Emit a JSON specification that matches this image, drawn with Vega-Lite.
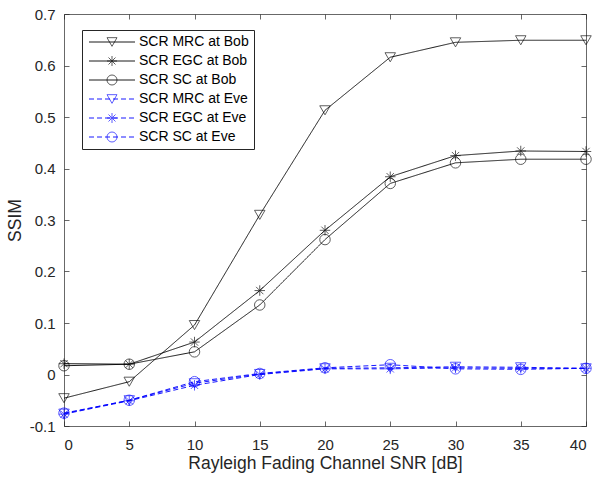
{
  "$schema": "https://vega.github.io/schema/vega-lite/v6.json",
  "width": 522,
  "height": 412,
  "autosize": {"type": "none"},
  "padding": {"left": 64, "top": 14, "right": 10, "bottom": 53},
  "background": "white",
  "config": {
    "view": {"stroke": null},
    "font": "Liberation Sans",
    "axis": {
      "grid": false,
      "domainColor": "#262626",
      "domainWidth": 0.7,
      "tickColor": "#262626",
      "tickWidth": 0.7,
      "tickSize": -5,
      "labelFont": "Liberation Sans",
      "labelFontSize": 15,
      "labelColor": "#262626",
      "titleFont": "Liberation Sans",
      "titleFontSize": 17.5,
      "titleFontWeight": "normal",
      "titleColor": "#262626"
    },
    "legend": {
      "labelFont": "Liberation Sans",
      "labelFontSize": 14,
      "labelColor": "#000000"
    }
  },
  "data": {
    "values": [
      {"snr": 0, "ssim": -0.046, "series": "SCR MRC at Bob"},
      {"snr": 5, "ssim": -0.014, "series": "SCR MRC at Bob"},
      {"snr": 10, "ssim": 0.096, "series": "SCR MRC at Bob"},
      {"snr": 15, "ssim": 0.31, "series": "SCR MRC at Bob"},
      {"snr": 20, "ssim": 0.513, "series": "SCR MRC at Bob"},
      {"snr": 25, "ssim": 0.616, "series": "SCR MRC at Bob"},
      {"snr": 30, "ssim": 0.645, "series": "SCR MRC at Bob"},
      {"snr": 35, "ssim": 0.649, "series": "SCR MRC at Bob"},
      {"snr": 40, "ssim": 0.649, "series": "SCR MRC at Bob"},
      {"snr": 0, "ssim": 0.021, "series": "SCR EGC at Bob"},
      {"snr": 5, "ssim": 0.02, "series": "SCR EGC at Bob"},
      {"snr": 10, "ssim": 0.063, "series": "SCR EGC at Bob"},
      {"snr": 15, "ssim": 0.163, "series": "SCR EGC at Bob"},
      {"snr": 20, "ssim": 0.28, "series": "SCR EGC at Bob"},
      {"snr": 25, "ssim": 0.384, "series": "SCR EGC at Bob"},
      {"snr": 30, "ssim": 0.425, "series": "SCR EGC at Bob"},
      {"snr": 35, "ssim": 0.434, "series": "SCR EGC at Bob"},
      {"snr": 40, "ssim": 0.433, "series": "SCR EGC at Bob"},
      {"snr": 0, "ssim": 0.017, "series": "SCR SC at Bob"},
      {"snr": 5, "ssim": 0.02, "series": "SCR SC at Bob"},
      {"snr": 10, "ssim": 0.044, "series": "SCR SC at Bob"},
      {"snr": 15, "ssim": 0.135, "series": "SCR SC at Bob"},
      {"snr": 20, "ssim": 0.262, "series": "SCR SC at Bob"},
      {"snr": 25, "ssim": 0.371, "series": "SCR SC at Bob"},
      {"snr": 30, "ssim": 0.411, "series": "SCR SC at Bob"},
      {"snr": 35, "ssim": 0.418, "series": "SCR SC at Bob"},
      {"snr": 40, "ssim": 0.418, "series": "SCR SC at Bob"},
      {"snr": 0, "ssim": -0.076, "series": "SCR MRC at Eve"},
      {"snr": 5, "ssim": -0.05, "series": "SCR MRC at Eve"},
      {"snr": 10, "ssim": -0.017, "series": "SCR MRC at Eve"},
      {"snr": 15, "ssim": 0.001, "series": "SCR MRC at Eve"},
      {"snr": 20, "ssim": 0.012, "series": "SCR MRC at Eve"},
      {"snr": 25, "ssim": 0.013, "series": "SCR MRC at Eve"},
      {"snr": 30, "ssim": 0.015, "series": "SCR MRC at Eve"},
      {"snr": 35, "ssim": 0.014, "series": "SCR MRC at Eve"},
      {"snr": 40, "ssim": 0.012, "series": "SCR MRC at Eve"},
      {"snr": 0, "ssim": -0.077, "series": "SCR EGC at Eve"},
      {"snr": 5, "ssim": -0.051, "series": "SCR EGC at Eve"},
      {"snr": 10, "ssim": -0.021, "series": "SCR EGC at Eve"},
      {"snr": 15, "ssim": 0.0, "series": "SCR EGC at Eve"},
      {"snr": 20, "ssim": 0.011, "series": "SCR EGC at Eve"},
      {"snr": 25, "ssim": 0.011, "series": "SCR EGC at Eve"},
      {"snr": 30, "ssim": 0.013, "series": "SCR EGC at Eve"},
      {"snr": 35, "ssim": 0.012, "series": "SCR EGC at Eve"},
      {"snr": 40, "ssim": 0.012, "series": "SCR EGC at Eve"},
      {"snr": 0, "ssim": -0.075, "series": "SCR SC at Eve"},
      {"snr": 5, "ssim": -0.05, "series": "SCR SC at Eve"},
      {"snr": 10, "ssim": -0.014, "series": "SCR SC at Eve"},
      {"snr": 15, "ssim": 0.002, "series": "SCR SC at Eve"},
      {"snr": 20, "ssim": 0.013, "series": "SCR SC at Eve"},
      {"snr": 25, "ssim": 0.019, "series": "SCR SC at Eve"},
      {"snr": 30, "ssim": 0.011, "series": "SCR SC at Eve"},
      {"snr": 35, "ssim": 0.01, "series": "SCR SC at Eve"},
      {"snr": 40, "ssim": 0.012, "series": "SCR SC at Eve"}
    ]
  },
  "layer": [
    {
      "mark": {"type": "line", "strokeWidth": 0.9},
      "encoding": {
        "x": {
          "field": "snr", "type": "quantitative",
          "scale": {"domain": [0, 40], "nice": false, "zero": false},
          "axis": {"orient": "bottom", "values": [0, 5, 10, 15, 20, 25, 30, 35, 40], "title": "Rayleigh Fading Channel SNR [dB]", "labelPadding": 16, "titlePadding": 2}
        },
        "y": {
          "field": "ssim", "type": "quantitative",
          "scale": {"domain": [-0.1, 0.7], "nice": false, "zero": false},
          "axis": {"orient": "left", "values": [-0.1, 0, 0.1, 0.2, 0.3, 0.4, 0.5, 0.6, 0.7], "labelExpr": "'' + datum.value", "title": "SSIM", "labelPadding": 14, "titlePadding": 5}
        },
        "stroke": {
          "field": "series", "type": "nominal",
          "scale": {
            "domain": ["SCR SC at Eve", "SCR EGC at Eve", "SCR MRC at Eve", "SCR SC at Bob", "SCR EGC at Bob", "SCR MRC at Bob"],
            "range": ["#0000FF", "#0000FF", "#0000FF", "#000000", "#000000", "#000000"]
          },
          "legend": {
            "orient": "none", "legendX": 18, "legendY": 16, "title": null,
            "values": ["SCR MRC at Bob", "SCR EGC at Bob", "SCR SC at Bob", "SCR MRC at Eve", "SCR EGC at Eve", "SCR SC at Eve"],
            "symbolType": "M-4.6,0L4.6,0", "symbolSize": 100, "symbolStrokeWidth": 0.9,
            "padding": 5, "rowPadding": 5, "symbolOffset": 18, "labelOffset": 20,
            "labelExpr": "''"
          }
        },
        "strokeDash": {
          "field": "series", "type": "nominal",
          "scale": {
            "domain": ["SCR SC at Eve", "SCR EGC at Eve", "SCR MRC at Eve", "SCR SC at Bob", "SCR EGC at Bob", "SCR MRC at Bob"],
            "range": [[5, 3], [5, 3], [5, 3], [1, 0], [1, 0], [1, 0]]
          }
        }
      }
    },
    {
      "mark": {"type": "point", "filled": false, "size": 110, "strokeWidth": 0.9},
      "encoding": {
        "x": {
          "field": "snr", "type": "quantitative",
          "axis": {"orient": "top", "values": [0, 5, 10, 15, 20, 25, 30, 35, 40], "labels": false, "title": null}
        },
        "y": {
          "field": "ssim", "type": "quantitative",
          "axis": {"orient": "right", "values": [-0.1, 0, 0.1, 0.2, 0.3, 0.4, 0.5, 0.6, 0.7], "labels": false, "title": null}
        },
        "color": {
          "field": "series", "type": "nominal",
          "scale": {
            "domain": ["SCR MRC at Bob", "SCR EGC at Bob", "SCR SC at Bob", "SCR MRC at Eve", "SCR EGC at Eve", "SCR SC at Eve"],
            "range": ["#000000", "#000000", "#000000", "#0000FF", "#0000FF", "#0000FF"]
          }
        },
        "shape": {
          "field": "series", "type": "nominal",
          "scale": {
            "domain": ["SCR MRC at Bob", "SCR EGC at Bob", "SCR SC at Bob", "SCR MRC at Eve", "SCR EGC at Eve", "SCR SC at Eve"],
            "range": ["triangle-down", "M-1,0L1,0M0,-1L0,1M-0.7,-0.7L0.7,0.7M-0.7,0.7L0.7,-0.7", "circle", "triangle-down", "M-1,0L1,0M0,-1L0,1M-0.7,-0.7L0.7,0.7M-0.7,0.7L0.7,-0.7", "circle"]
          },
          "legend": {
            "orient": "none", "legendX": 18, "legendY": 16, "title": null,
            "symbolSize": 100, "symbolStrokeWidth": 0.9, "symbolFillColor": "transparent",
            "padding": 5, "rowPadding": 5, "symbolOffset": 18, "labelOffset": 20,
            "strokeColor": "#262626"
          }
        }
      }
    }
  ]
}
